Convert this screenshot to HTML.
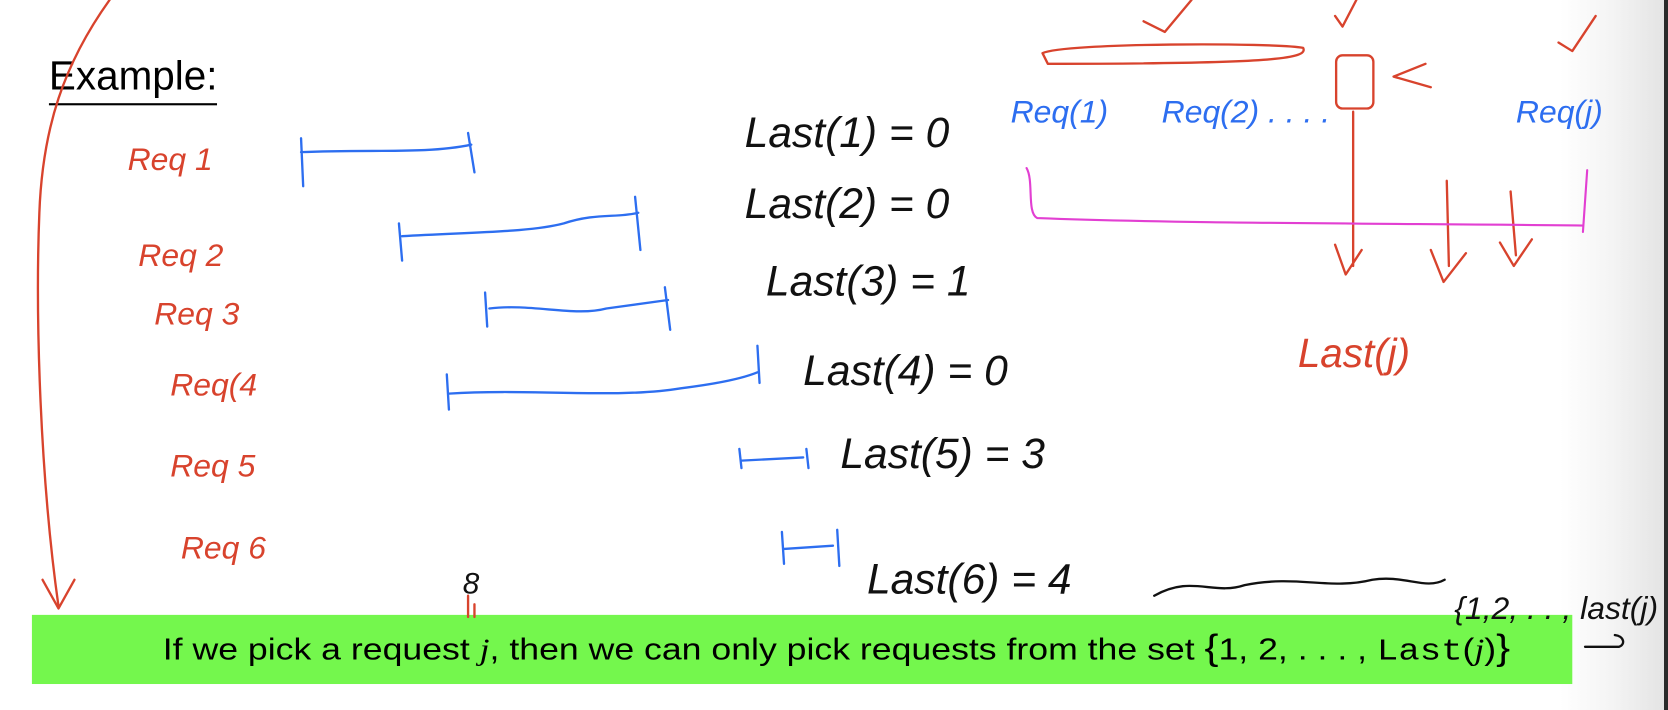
<!DOCTYPE html>
<html><head><meta charset="utf-8"><style>
html,body{margin:0;padding:0;background:#fff}
body{width:1668px;height:710px;position:relative;overflow:hidden;font-family:"Liberation Sans",sans-serif}
.edge{position:absolute;left:1560px;top:0;width:104px;height:710px;background:linear-gradient(to right,#fff,#f4f4f4 50%,#e4e4e4)}
.edge2{position:absolute;left:1664px;top:0;width:4px;height:710px;background:#2a2a2a}
.wrap{position:absolute;left:0;top:0;width:1568px;height:667px;transform:scale(1.0638);transform-origin:0 0}
.green{position:absolute;left:30px;top:578px;width:1448px;height:65px;background:#74f74d}
.gt{position:absolute;left:153px;top:590px;font-size:29px;color:#000;white-space:nowrap;transform:scaleX(1.155);transform-origin:0 0}
.title{position:absolute;left:46px;top:50px;font-size:38px;color:#000;border-bottom:2px solid #000;line-height:44px;padding-bottom:3px}
svg{position:absolute;left:0;top:0}
.h{font-family:"Liberation Sans",sans-serif;font-style:italic}
</style></head><body>
<div class="edge"></div><div class="edge2"></div>
<div class="wrap">
<div class="green"></div>
<div class="gt">If we pick a request <i style="font-family:'Liberation Serif',serif">j</i>, then we can only pick requests from the set <span style="font-size:34px">{</span>1, 2, . . . , <span style="font-family:'Liberation Mono',monospace">Last</span>(<i style="font-family:'Liberation Serif',serif">j</i>)<span style="font-size:34px">}</span></div>
<div class="title">Example:</div>
<svg width="1568" height="667" viewBox="0 0 1568 667" fill="none" stroke-linecap="round" stroke-linejoin="round">
<g stroke="#d8432d" stroke-width="2.2">
<path d="M103 0 C60 60 40 120 37 200 C33 300 38 450 55 570"/>
<path d="M40 545 L55 572 L70 545"/>
<path d="M980 50 C1000 40 1200 40 1225 45 C1230 55 1200 60 985 60 Z"/>
<path d="M1075 20 L1095 30 L1120 0"/>
<path d="M1255 15 L1262 25 L1275 0"/>
<path d="M1465 40 L1478 48 L1500 15"/>
<rect x="1256" y="52" width="35" height="50" rx="6"/>
<path d="M1340 60 L1310 72 L1345 82"/>
<path d="M1272 105 L1272 250 M1255 230 L1265 258 L1280 235"/>
<path d="M1360 170 L1362 250 M1345 235 L1357 265 L1378 238"/>
<path d="M1420 180 L1425 240 M1410 228 L1423 250 L1440 225"/>
<path d="M440 560 L440 580 M446 568 L446 580"/>
</g>
<path d="M965 158 C972 170 965 200 975 205 C1100 210 1300 210 1488 212 M1492 160 L1488 218" stroke="#e23fd2" stroke-width="2"/>
<g stroke="#2d6ef0" stroke-width="2.2">
<path d="M283 130 L285 175 M283 143 C350 140 400 145 443 136 M440 125 L446 162"/>
<path d="M375 210 L378 245 M378 222 C450 218 500 218 530 210 C560 200 580 205 600 200 M597 185 L602 235"/>
<path d="M456 275 L458 307 M460 290 C500 285 540 298 570 290 L628 282 M625 270 L630 310"/>
<path d="M420 352 L422 385 M422 370 C500 365 580 375 640 365 C680 360 700 355 712 350 M712 325 L714 360"/>
<path d="M695 422 L697 440 M697 433 L755 430 M758 422 L760 440"/>
<path d="M735 500 L737 530 M737 516 L783 513 M787 498 L789 532"/>
</g>
<g stroke="#111" stroke-width="2.2">
<path d="M1085 560 C1120 540 1140 560 1170 550 C1220 540 1250 555 1290 545 C1320 540 1340 555 1358 545"/>
<path d="M1490 608 L1522 608 C1528 606 1527 598 1518 597"/>
</g>
<g class="h" font-size="40" fill="#111">
<text x="700" y="138">Last(1) = 0</text>
<text x="700" y="205">Last(2) = 0</text>
<text x="720" y="278">Last(3) = 1</text>
<text x="755" y="362">Last(4) = 0</text>
<text x="790" y="440">Last(5) = 3</text>
<text x="815" y="558">Last(6) = 4</text>
<text x="1367" y="582" font-size="30">{1,2, . . , last(j)</text>
<text x="435" y="558" font-size="28">8</text>
</g>
<g class="h" font-size="30" fill="#d8432d">
<text x="120" y="160">Req 1</text>
<text x="130" y="250">Req 2</text>
<text x="145" y="305">Req 3</text>
<text x="160" y="372">Req(4</text>
<text x="160" y="448">Req 5</text>
<text x="170" y="525">Req 6</text>
<text x="1220" y="345" font-size="38">Last(j)</text>
</g>
<g class="h" font-size="30" fill="#2d6ef0">
<text x="950" y="115">Req(1)</text>
<text x="1092" y="115">Req(2) . . . .</text>
<text x="1425" y="115">Req(j)</text>
</g>
</svg>
</div>
</body></html>
